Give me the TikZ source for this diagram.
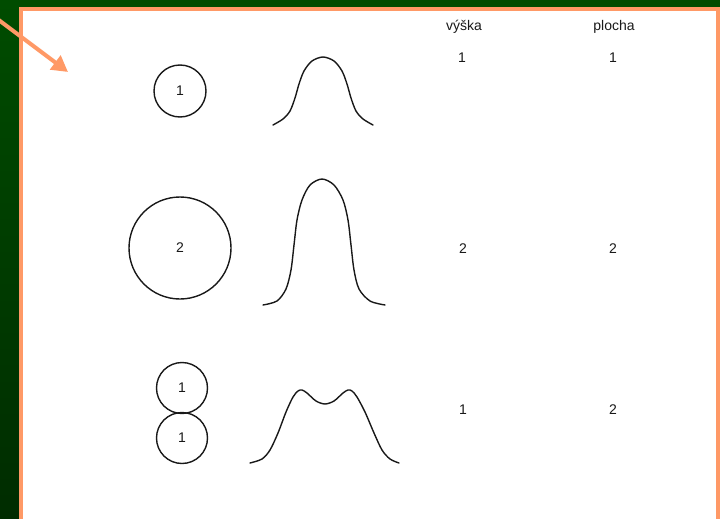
\documentclass[tikz,border=0pt]{standalone}
\usepackage{fontspec}
\setmainfont{Liberation Sans}
\usetikzlibrary{arrows.meta}
\definecolor{bordero}{RGB}{255,153,102}
\definecolor{ink}{RGB}{25,25,25}
\definecolor{gtop}{RGB}{0,76,0}
\definecolor{gbot}{RGB}{0,44,0}
\begin{document}
\begin{tikzpicture}[x=1pt,y=-1pt,
  lbl/.style={font=\fontsize{14}{16}\selectfont, inner sep=0pt, text=ink},
  blob/.style={circle, draw=ink, line width=1.4pt, inner sep=0pt, font=\fontsize{14}{16}\selectfont, text=ink},
  curve/.style={draw=ink, line width=1.4pt, line join=round, line cap=round},
  pointer/.style={draw=bordero, line width=4pt, -{Triangle[length=16pt,width=17pt]}}]
\useasboundingbox (0,0) rectangle (720,519);
% background and panel
\shade[top color=gtop, bottom color=gbot] (0,0) rectangle (720,519);
\fill[white] (21,9) rectangle (724,525);
\draw[bordero, line width=4pt] (21,525) -- (21,9) -- (718,9) -- (718,525);
% column headings
\node[lbl] (hv) at (464,27) {výška};
\node[lbl] (hp) at (614,27) {plocha};
% row 1
\node[blob, minimum size=52pt] (c1) at (180,91) {1};
\draw[curve] plot[smooth, tension=0.5] coordinates {(273,125) (283,119) (290,111) (295,98) (299,84) (304,71) (312,61) (323,57) (334,61) (342,71) (347,84) (351,98) (356,111) (363,119) (373,125)};
\node[lbl] (v1) at (462,58) {1};
\node[lbl] (p1) at (613,58) {1};
% row 2
\node[blob, minimum size=102pt] (c2) at (180,248) {2};
\draw[curve] plot[smooth, tension=0.5] coordinates {(263,305) (277,301) (286,289) (291,270) (294,245) (297,220) (302,200) (310,185) (322,179) (334,185) (343,200) (348,220) (351,245) (354,270) (359,289) (370,301) (385,305)};
\node[lbl] (v2) at (463,249) {2};
\node[lbl] (p2) at (613,249) {2};
% row 3
\node[blob, minimum size=51pt] (c3a) at (182,388) {1};
\node[blob, minimum size=51pt] (c3b) at (182,438) {1};
\draw[curve] plot[smooth, tension=0.5] coordinates {(250,463) (262,459) (270,450) (278,433) (286,412) (293,397) (298,391) (302,390) (307,393) (316,401) (325,404) (334,401) (343,393) (348,390) (352,391) (357,397) (365,412) (374,433) (382,450) (390,459) (399,463)};
\node[lbl] (v3) at (463,410) {1};
\node[lbl] (p3) at (613,410) {2};
% pointer arrow
\coordinate (as) at (-4,18);
\coordinate (ae) at (68,72);
\draw[pointer] (as) -- (ae);
\end{tikzpicture}
\end{document}
